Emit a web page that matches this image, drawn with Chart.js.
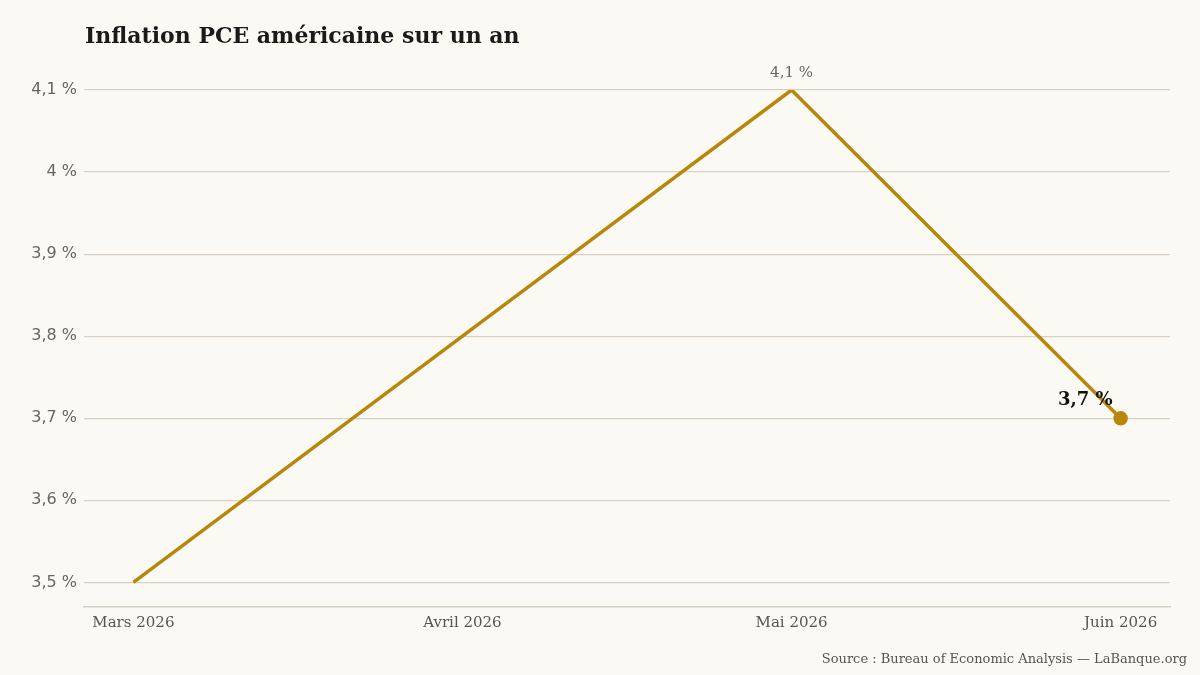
<!DOCTYPE html>
<html lang="fr">
<head>
<meta charset="utf-8">
<script src="https://cdn.jsdelivr.net/npm/chart.js@4"></script>
<style>
  html, body { margin: 0; padding: 0; background: #fbf9f3; }
  #wrap { position: relative; width: 1200px; height: 675px; }
  #titre {
    position: absolute; left: 85px; top: 22px; margin: 0;
    font: bold 22px "DejaVu Serif", Georgia, serif; color: #1a1a1a;
  }
  #source {
    position: absolute; right: 13px; top: 651px;
    font: 13px "DejaVu Serif", Georgia, serif; color: #555;
  }
  canvas { position: absolute; left: 0; top: 0; }
</style>
</head>
<body>
<div id="wrap">
  <canvas id="graph" width="1200" height="675"></canvas>
  <h1 id="titre">Inflation PCE américaine sur un an</h1>
  <div id="source">Source : Bureau of Economic Analysis — LaBanque.org</div>
</div>
<script>
// données
const mois = ["Mars 2026", "Avril 2026", "Mai 2026", "Juin 2026"];
const inflation = [3.5, 3.8, 4.1, 3.7];
const ticksY = [3.5, 3.6, 3.7, 3.8, 3.9, 4.0, 4.1];

const OR = "#b8860b";
const fmt = (v) => v.toLocaleString("fr-FR", { maximumFractionDigits: 1 }) + " %";

// étiquettes sur le pic et le dernier point
const etiquettes = {
  id: "etiquettes",
  afterDatasetsDraw(chart) {
    const ctx = chart.ctx;
    const pts = chart.getDatasetMeta(0).data;
    const iMax = inflation.indexOf(Math.max(...inflation));
    const iDer = inflation.length - 1;
    ctx.save();
    ctx.textBaseline = "alphabetic";
    // pic
    ctx.font = '15px "DejaVu Serif", Georgia, serif';
    ctx.fillStyle = "#666";
    ctx.textAlign = "center";
    ctx.fillText(fmt(inflation[iMax]), pts[iMax].x, pts[iMax].y - 13);
    // dernier point
    ctx.font = 'bold 18px "DejaVu Serif", Georgia, serif';
    ctx.fillStyle = "#111";
    ctx.textAlign = "right";
    ctx.fillText(fmt(inflation[iDer]), pts[iDer].x - 8, pts[iDer].y - 13);
    ctx.restore();
  },
};

new Chart(document.getElementById("graph"), {
  type: "line",
  data: {
    datasets: [
      {
        data: inflation.map((v, i) => ({ x: i, y: v })),
        borderColor: OR,
        backgroundColor: OR,
        borderWidth: 3.5,
        tension: 0,
        pointRadius: inflation.map((v, i) => (i === inflation.length - 1 ? 5.5 : 0)),
        pointHoverRadius: 0,
      },
    ],
  },
  options: {
    responsive: false,
    animation: false,
    layout: { padding: { left: 0, right: 30, top: 90, bottom: 28 } },
    plugins: { legend: { display: false }, tooltip: { enabled: false } },
    scales: {
      x: {
        type: "linear",
        min: -0.15,
        max: 3.15,
        afterBuildTicks: (s) => { s.ticks = mois.map((m, i) => ({ value: i })); },
        afterFit: (s) => { s.height = 40; },
        grid: { display: false, drawTicks: false },
        border: { display: true, color: "#d6d0c4", width: 1.5 },
        ticks: {
          padding: 7,
          maxRotation: 0,
          autoSkip: false,
          color: "#555",
          font: { family: '"DejaVu Serif", Georgia, serif', size: 15 },
          callback: (v) => mois[v],
        },
      },
      y: {
        min: 3.47,
        max: 4.1,
        afterBuildTicks: (s) => { s.ticks = ticksY.map((v) => ({ value: v })); },
        afterFit: (s) => { s.width = 84; },
        grid: { color: "#d9d2c4", lineWidth: 1.2, drawTicks: false },
        border: { display: false },
        ticks: {
          padding: 7,
          color: "#666",
          font: { family: '"DejaVu Sans", sans-serif', size: 16 },
          callback: (v) => fmt(v),
        },
      },
    },
  },
  plugins: [etiquettes],
});
</script>
</body>
</html>
